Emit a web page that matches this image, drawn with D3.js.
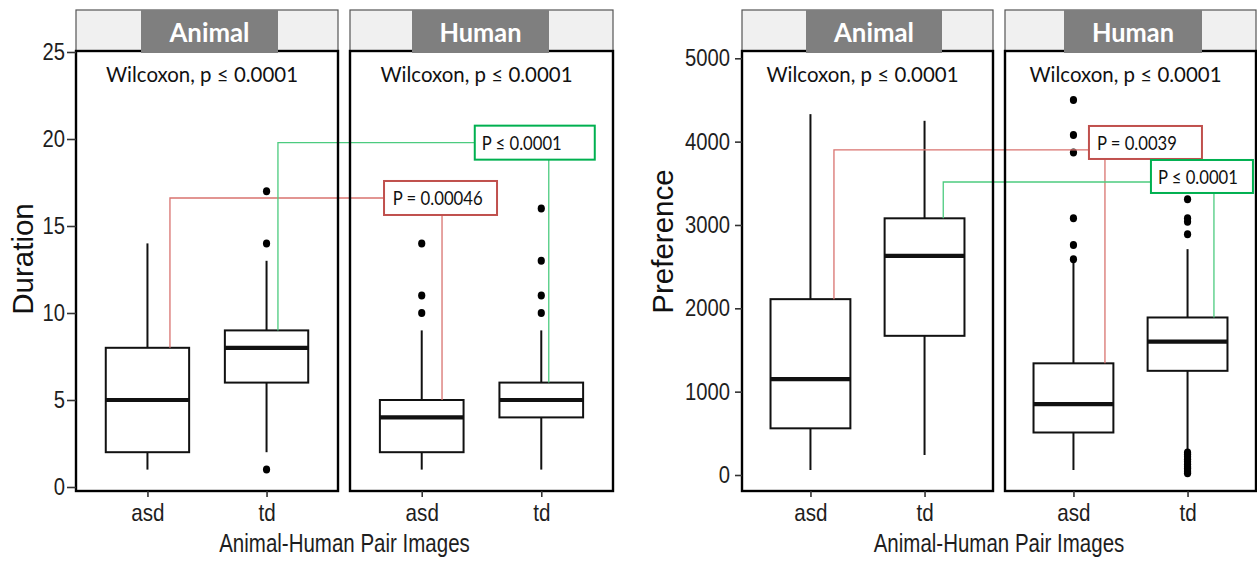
<!DOCTYPE html>
<html><head><meta charset="utf-8">
<script src="https://cdn.jsdelivr.net/npm/d3@7"></script>
<style>body{margin:0;background:#fff} svg{display:block}</style>
</head><body><svg id="c" width="1257" height="562"></svg>
<script>
// ---------------- data ----------------
const categories = ["asd", "td"];
const facets = ["Animal", "Human"];
const xTitle = "Animal-Human Pair Images";
const statLabel = "Wilcoxon, p \u2264 0.0001";

// [lower whisker, Q1, median, Q3, upper whisker] for asd, td
const durationAnimal = [[1, 2, 5, 8, 14], [2, 6, 8, 9, 13]];
const durationHuman  = [[1, 2, 4, 5, 9],  [1, 4, 5, 6, 9]];
const durationAnimalOutliers = [[], [1, 14, 17]];
const durationHumanOutliers  = [[10, 11, 14], [10, 11, 13, 16]];
const durationTicks = [0, 5, 10, 15, 20, 25];
const durationPLabels = ["P = 0.00046", "P \u2264 0.0001"];

const prefAnimal = [[60, 560, 1150, 2110, 4330], [240, 1670, 2630, 3080, 4250]];
const prefHuman  = [[60, 510, 850, 1340, 2560], [290, 1250, 1600, 1890, 2710]];
const prefAnimalOutliers = [[], []];
const prefHumanOutliers  = [[2590, 2760, 3080, 3870, 4080, 4500],
                            [2890, 3040, 3080, 3310, 270, 250, 220, 190, 160, 130, 100, 80, 60, 40, 20]];
const prefTicks = [0, 1000, 2000, 3000, 4000, 5000];
const prefPLabels = ["P = 0.0039", "P \u2264 0.0001"];

// ---------------- layout ----------------
const RED = "#c0504d", RED_LINE = "#d9736f", GREEN = "#00b050", GREEN_LINE = "#4ccb7f";
const svg = d3.select("#c");

const charts = [
  {
    yTitle: "Duration", yTitlePos: [33, 259],
    yDomain: [0, 25], yRange: [487, 52], ticks: durationTicks,
    tickSize: 9, tickPad: 3.5,
    panelX: [[76, 338], [350, 613]],
    stats: [durationAnimal, durationHuman], outliers: [durationAnimalOutliers, durationHumanOutliers],
    titleBoxes: [[141, 278], [412, 549]],
    annots: [
      { cat: 0, level: 16.61, label: durationPLabels[0], color: RED, line: RED_LINE, dx1: 22.5, dx2: 20.3, bx: -58, bw: 113, by: -17, bh: 34, tx: 8.7, tw: 90 },
      { cat: 1, level: 19.79, label: durationPLabels[1], color: GREEN, line: GREEN_LINE, dx1: 11.4, dx2: 7.5, bx: -74, bw: 120, by: -17, bh: 34, tx: 7, tw: 80 }
    ]
  },
  {
    yTitle: "Preference", yTitlePos: [673, 241.5],
    yDomain: [0, 5000], yRange: [475, 58.3], ticks: prefTicks,
    tickSize: 7, tickPad: 6.6,
    panelX: [[742, 993], [1005, 1256]],
    stats: [prefAnimal, prefHuman], outliers: [prefAnimalOutliers, prefHumanOutliers],
    titleBoxes: [[806, 942], [1064, 1202]],
    annots: [
      { cat: 0, level: 3900, label: prefPLabels[0], color: RED, line: RED_LINE, dx1: 23.5, dx2: 31.5, bx: -16, bw: 113, by: -24, bh: 33, tx: 8, tw: 80 },
      { cat: 1, level: 3516, label: prefPLabels[1], color: GREEN, line: GREEN_LINE, dx1: 18.7, dx2: 26.4, bx: -63, bw: 102, by: -22, bh: 33, tx: 7, tw: 80 }
    ]
  }
];

const PANEL_TOP = 51, PANEL_BOTTOM = 491, STRIP_TOP = 10;
const CAL = "Lato, 'Open Sans', sans-serif";
const GG = "'Liberation Sans', Arial, sans-serif";

charts.forEach(c => {
  const y = d3.scaleLinear().domain(c.yDomain).range(c.yRange);
  const panels = c.panelX.map((r, i) => ({
    i, x0: r[0], x1: r[1],
    x: d3.scalePoint().domain(categories).range(r).padding(0.6)
  }));
  const g = svg.append("g");

  // strips + panel backgrounds
  panels.forEach(p => {
    g.append("rect").attr("x", p.x0).attr("y", STRIP_TOP).attr("width", p.x1 - p.x0).attr("height", PANEL_TOP - STRIP_TOP)
      .attr("fill", "#f0f0f0").attr("stroke", "#555").attr("stroke-width", 1.2);
    g.append("rect").attr("x", p.x0).attr("y", PANEL_TOP).attr("width", p.x1 - p.x0).attr("height", PANEL_BOTTOM - PANEL_TOP)
      .attr("fill", "#fff");
  });

  // boxplots
  panels.forEach(p => {
    const step = p.x.step(), bw = step * 0.7;
    categories.forEach((cat, k) => {
      const s = c.stats[p.i][k], cx = p.x(cat);
      const bg = g.append("g").attr("stroke", "#111").attr("fill", "none");
      bg.append("line").attr("x1", cx).attr("x2", cx).attr("y1", y(s[0])).attr("y2", y(s[1])).attr("stroke-width", 2);
      bg.append("line").attr("x1", cx).attr("x2", cx).attr("y1", y(s[3])).attr("y2", y(s[4])).attr("stroke-width", 2);
      bg.append("rect").attr("x", cx - bw / 2).attr("width", bw).attr("y", y(s[3])).attr("height", y(s[1]) - y(s[3]))
        .attr("fill", "#fff").attr("stroke-width", 2);
      bg.append("line").attr("x1", cx - bw / 2).attr("x2", cx + bw / 2).attr("y1", y(s[2])).attr("y2", y(s[2])).attr("stroke-width", 4.2);
      g.selectAll(null).data(c.outliers[p.i][k]).join("ellipse")
        .attr("cx", cx).attr("cy", d => y(d)).attr("rx", 3.6).attr("ry", 4).attr("fill", "#000");
    });
  });

  // annotation lines
  c.annots.forEach(a => {
    const cat = categories[a.cat];
    const v1 = panels[0].x(cat) + a.dx1, v2 = panels[1].x(cat) + a.dx2;
    const ly = y(a.level);
    const q1 = y(c.stats[0][a.cat][3]), q2 = y(c.stats[1][a.cat][3]);
    const boxX = v2 + a.bx, boxY = ly + a.by;
    g.append("path").attr("d", `M${v1},${q1}V${ly}H${boxX}`).attr("fill", "none").attr("stroke", a.line).attr("stroke-width", 1.3);
    g.append("path").attr("d", `M${v2},${boxY + a.bh}V${q2}`).attr("fill", "none").attr("stroke", a.line).attr("stroke-width", 1.3);
    a._box = [boxX, boxY];
  });

  // panel borders
  panels.forEach(p => {
    g.append("rect").attr("x", p.x0).attr("y", PANEL_TOP).attr("width", p.x1 - p.x0).attr("height", PANEL_BOTTOM - PANEL_TOP)
      .attr("fill", "none").attr("stroke", "#000").attr("stroke-width", 2.4);
  });

  // strip title boxes
  panels.forEach(p => {
    const tb = c.titleBoxes[p.i];
    g.append("rect").attr("x", tb[0]).attr("y", STRIP_TOP).attr("width", tb[1] - tb[0]).attr("height", 43).attr("fill", "#7f7f7f");
    g.append("text").attr("x", (tb[0] + tb[1]) / 2).attr("y", 42).attr("text-anchor", "middle")
      .attr("font-family", CAL).attr("font-weight", 700).attr("font-size", 26)
      .attr("fill", "#fff").attr("textLength", facets[p.i] === "Animal" ? 80 : 82).attr("lengthAdjust", "spacingAndGlyphs")
      .text(facets[p.i]);
    g.append("text").attr("x", (p.x0 + p.x1) / 2 - 5).attr("y", 82).attr("text-anchor", "middle")
      .attr("font-family", CAL).attr("font-size", 22).attr("fill", "#111")
      .attr("textLength", 192).attr("lengthAdjust", "spacingAndGlyphs").text(statLabel);
  });

  // annotation label boxes
  c.annots.forEach(a => {
    const [bx, by] = a._box;
    g.append("rect").attr("x", bx).attr("y", by).attr("width", a.bw).attr("height", a.bh)
      .attr("fill", "#fff").attr("stroke", a.color).attr("stroke-width", 2);
    g.append("text").attr("x", bx + a.tx).attr("y", by + 24)
      .attr("font-family", CAL).attr("font-size", 19.5).attr("fill", "#111")
      .attr("textLength", a.tw).attr("lengthAdjust", "spacingAndGlyphs").text(a.label);
  });

  // y axis
  const ya = g.append("g").attr("transform", `translate(${panels[0].x0},0)`)
    .call(d3.axisLeft(y).tickValues(c.ticks).tickFormat(d3.format("d")).tickSize(c.tickSize).tickPadding(c.tickPad));
  ya.select(".domain").remove();
  ya.selectAll(".tick line").attr("stroke", "#333").attr("stroke-width", 1.6);
  ya.selectAll(".tick text").attr("font-family", GG).attr("font-size", 23)
    .attr("fill", "#1e1e1e").attr("transform", "scale(0.88,1)");

  // x axes
  panels.forEach(p => {
    const xa = g.append("g").attr("transform", `translate(0,${PANEL_BOTTOM})`)
      .call(d3.axisBottom(p.x).tickSize(6).tickPadding(6.5));
    xa.select(".domain").remove();
    xa.selectAll(".tick line").attr("stroke", "#333").attr("stroke-width", 1.6);
    xa.selectAll(".tick text").attr("font-family", GG).attr("font-size", 24)
      .attr("fill", "#1e1e1e").attr("transform", "scale(0.86,1)").attr("text-anchor", "middle");
  });

  // titles
  const cx = (panels[0].x0 + panels[1].x1) / 2;
  g.append("text").attr("transform", `translate(${cx},552) scale(0.82,1)`).attr("text-anchor", "middle")
    .attr("font-family", GG).attr("font-size", 25).attr("fill", "#1e1e1e").text(xTitle);
  g.append("text").attr("transform", `translate(${c.yTitlePos[0]},${c.yTitlePos[1]}) rotate(-90)`).attr("text-anchor", "middle")
    .attr("font-family", GG).attr("font-size", 29.5).attr("fill", "#111").text(c.yTitle);
});
</script>
</body></html>
